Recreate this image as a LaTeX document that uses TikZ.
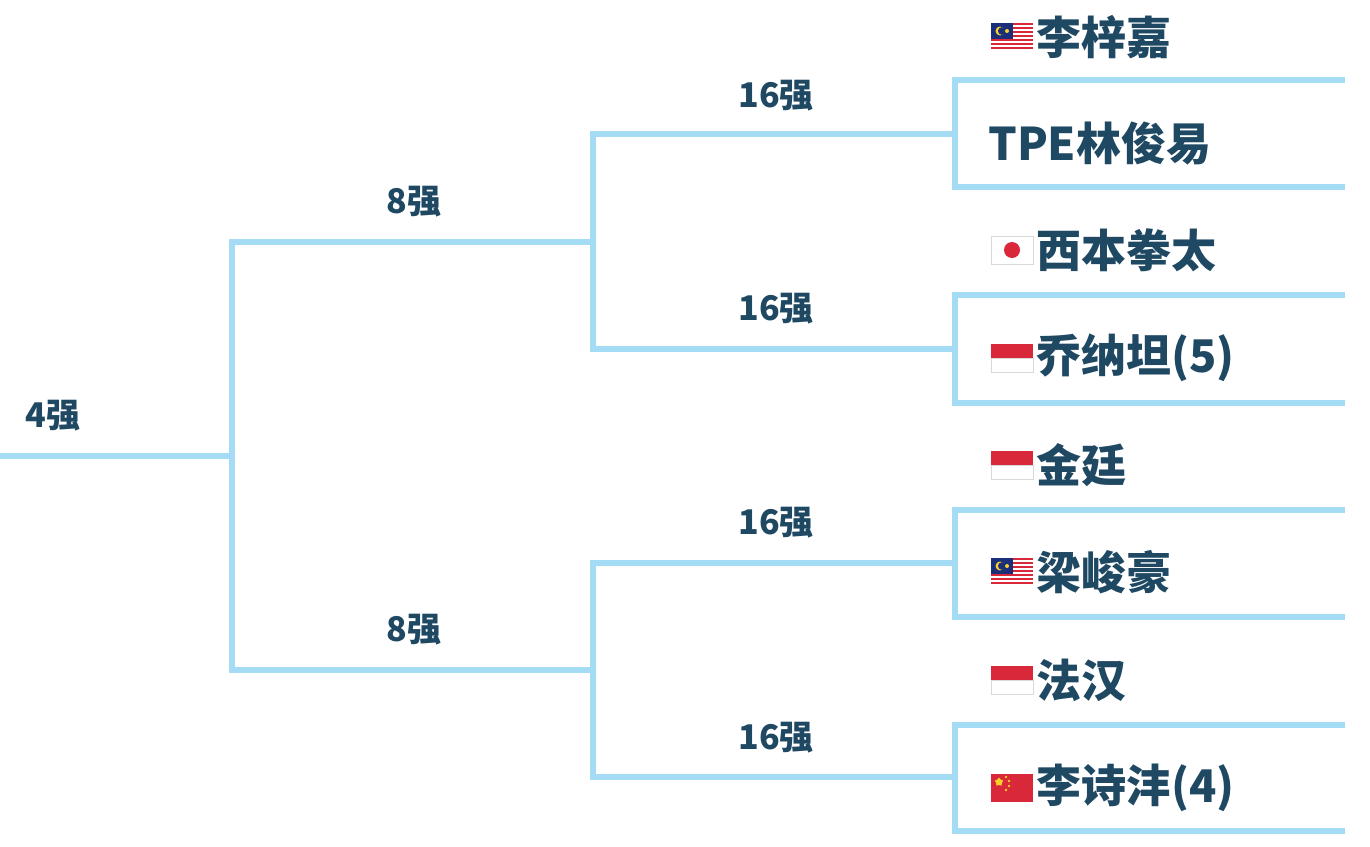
\documentclass[tikz,border=0pt]{standalone}
\usepackage{fontspec}
\usetikzlibrary{shapes.geometric}
\setmainfont{Noto Sans CJK SC}
\definecolor{ln}{HTML}{A3DCF4}
\definecolor{tx}{HTML}{1F4863}
\definecolor{fr}{HTML}{D8283A}
\definecolor{fb}{HTML}{1B2E7A}
\definecolor{fy}{HTML}{F7CE2A}
\begin{document}
\begin{tikzpicture}[x=1pt,y=-1pt,
  br/.style={draw=ln,line width=6pt},
  rnd/.style={text=tx,font=\fontsize{34}{36}\selectfont\bfseries,inner sep=0pt},
  pl/.style={text=tx,font=\fontsize{45}{47}\selectfont\bfseries,inner sep=0pt,anchor=west}]
\useasboundingbox (0,0) rectangle (1370,846);
% coordinates
\coordinate (r0) at (0,456); \coordinate (r1) at (232,456);
\coordinate (a1) at (232,242); \coordinate (a2) at (593,242);
\coordinate (b1) at (232,670); \coordinate (b2) at (593,670);
\coordinate (c1) at (593,134); \coordinate (c2) at (955,134);
\coordinate (d1) at (593,349); \coordinate (d2) at (955,349);
\coordinate (e1) at (593,563); \coordinate (e2) at (955,563);
\coordinate (f1) at (593,777); \coordinate (f2) at (955,777);
\draw[br] (r0) -- (r1);
\draw[br] (a2) -- (a1) -- (b1) -- (b2);
\draw[br] (c2) -- (c1) -- (d1) -- (d2);
\draw[br] (e2) -- (e1) -- (f1) -- (f2);
\foreach \t/\b in {80/187,295/403,510/617,725/831}{
  \draw[br] (1345,\t) -- (955,\t) -- (955,\b) -- (1345,\b);
}
% round labels
\node[rnd] (l4) at (53,416) {4强};
\node[rnd] (l8a) at (414,202) {8强};
\node[rnd] (l8b) at (414,630) {8强};
\node[rnd] (l16a) at (776,96) {16强};
\node[rnd] (l16b) at (776,309) {16强};
\node[rnd] (l16c) at (776,523) {16强};
\node[rnd] (l16d) at (776,738) {16强};
% flags
\newcommand{\mys}[1]{%
  \begin{scope}[shift={(991,#1)}]
  \fill[white] (0,0) rectangle (42,28);
  \foreach \i in {0,2,4,6,8,10,12}{\fill[fr] (0,\i*2) rectangle (42,\i*2+2);}
  \fill[fb] (0,0) rectangle (22,16);
  \fill[fy] (9,8) circle (4.5); \fill[fb] (10.8,8) circle (3.8);
  \fill[fy] (16,8) circle (2);
  \end{scope}}
\newcommand{\idn}[1]{%
  \begin{scope}[shift={(991,#1)}]
  \fill[fr] (0,0) rectangle (42,14);
  \fill[white,draw=gray!30,line width=0.5pt] (0,14) rectangle (42,28);
  \end{scope}}
\newcommand{\jpn}[1]{%
  \begin{scope}[shift={(991,#1)}]
  \fill[white,draw=gray!30,line width=0.5pt] (0,0) rectangle (42,28);
  \fill[fr] (21,14) circle (8);
  \end{scope}}
\newcommand{\chn}[1]{%
  \begin{scope}[shift={(991,#1)}]
  \fill[fr] (0,0) rectangle (42,28);
  \node[star,star points=5,fill=fy,inner sep=0pt,minimum size=9pt] at (8,8) {};
  \foreach \p in {(15,3),(18,7),(18,12),(15,16)}{\fill[fy] \p circle (1.4);}
  \end{scope}}
\mys{23} \jpn{236} \idn{344} \idn{451} \mys{558} \idn{666} \chn{774}
% players
\node[pl] (p1) at (1036,37) {李梓嘉};
\node[pl] (p2) at (988,143) {TPE林俊易};
\node[pl] (p3) at (1036,250) {西本拳太};
\node[pl] (p4) at (1036,358) {乔纳坦(5)};
\node[pl] (p5) at (1036,465) {金廷};
\node[pl] (p6) at (1036,572) {梁峻豪};
\node[pl] (p7) at (1036,680) {法汉};
\node[pl] (p8) at (1036,788) {李诗沣(4)};
\end{tikzpicture}
\end{document}
